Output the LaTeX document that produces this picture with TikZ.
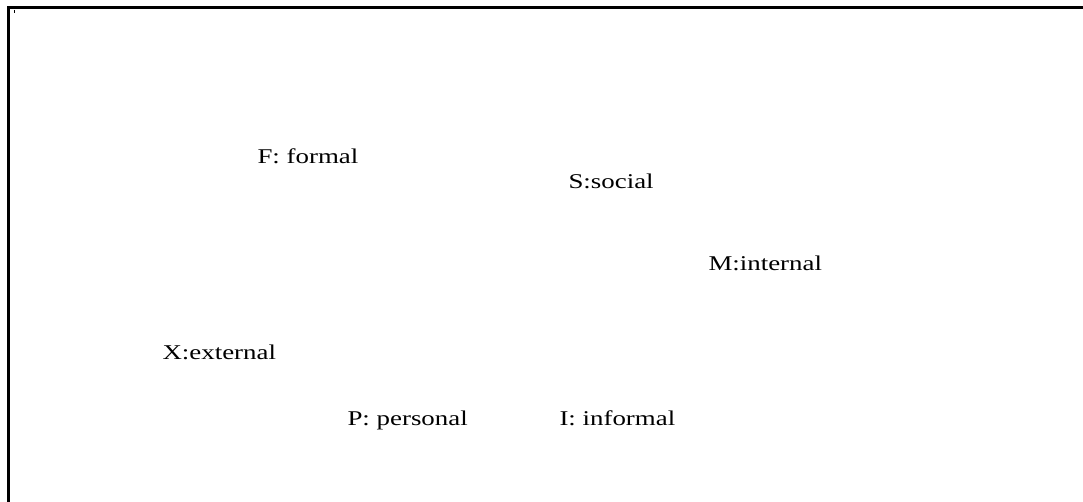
\documentclass[tikz,border=0pt]{standalone}
\usepackage{fontspec}
\setmainfont{Liberation Serif}
\begin{document}
\begin{tikzpicture}[x=0.5pt, y=-0.5pt, line width=1.2pt,
  etiq/.style={anchor=base west, inner sep=0pt, xscale=1.28, font=\fontsize{10.5}{12}\selectfont}]
\useasboundingbox (0,0) rectangle (1083,502);
% Marco
\draw (8.5,502) -- (8.5,7.5) -- (1083,7.5);
\draw[line width=0.5pt] (14,10) -- (14,13);
% Nodos
\node [etiq] (F) at (256,164) {F: formal};
\node [etiq] (S) at (567,189) {S:social};
\node [etiq] (M) at (707,271) {M:internal};
\node [etiq] (X) at (161,360) {X:external};
\node [etiq] (P) at (346,426) {P: personal};
\node [etiq] (I) at (558,426) {I: informal};
\end{tikzpicture}
\end{document}
